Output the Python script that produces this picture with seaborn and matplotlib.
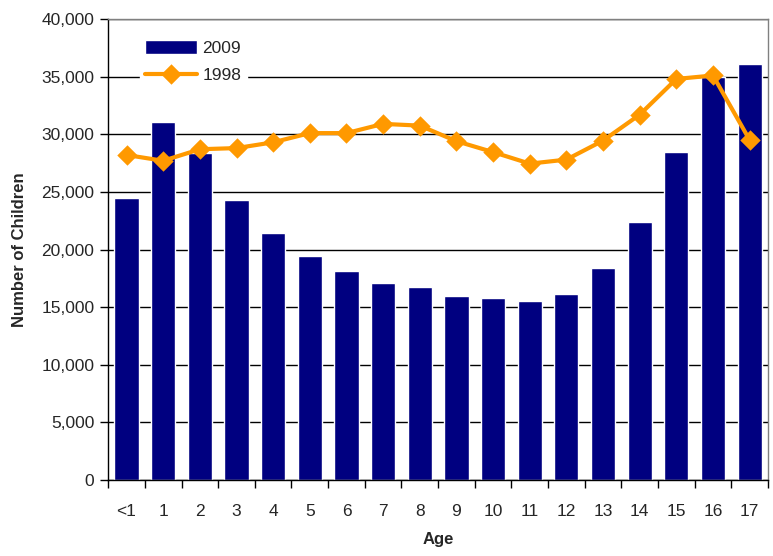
import matplotlib
matplotlib.use("Agg")
import matplotlib.pyplot as plt
import matplotlib.ticker as mticker
import numpy as np
import pandas as pd
import seaborn as sns

ages = ["<1", "1", "2", "3", "4", "5", "6", "7", "8", "9",
        "10", "11", "12", "13", "14", "15", "16", "17"]
children_2009 = [24500, 31100, 28400, 24300, 21400, 19450, 18100, 17100, 16750,
                 15950, 15750, 15550, 16150, 18400, 22400, 28500, 35000, 36100]
children_1998 = [28200, 27700, 28700, 28800, 29300, 30100, 30100, 30900, 30750,
                 29400, 28450, 27450, 27800, 29450, 31700, 34800, 35100, 29500]

df = pd.DataFrame({"Age": ages, "2009": children_2009, "1998": children_1998})

sns.set_style("white")
plt.rcParams["font.family"] = ["Liberation Sans", "DejaVu Sans"]

fig = plt.figure(figsize=(7.73, 5.56), dpi=100)
ax = fig.add_axes([0.140, 0.1367, 0.8535, 0.8291])

sns.barplot(data=df, x="Age", y="2009", color="#000080", saturation=1,
            width=0.66, ax=ax, label="2009", zorder=2)
sns.pointplot(data=df, x="Age", y="1998", color="#FF9900", markers="D",
              markersize=8, linewidth=3, ax=ax, label="1998", zorder=3)

ax.set_ylim(0, 40000)
ax.set_xlim(-0.5, len(ages) - 0.5)
ax.yaxis.set_major_locator(mticker.MultipleLocator(5000))
ax.yaxis.set_major_formatter(mticker.FuncFormatter(lambda v, p: f"{int(v):,}"))
ax.grid(axis="y", color="black", linewidth=1, zorder=0)
ax.set_axisbelow(True)

# x ticks sit between categories
ax.set_xticks(np.arange(-0.5, len(ages), 1), minor=True)
ax.tick_params(axis="x", which="major", length=0, pad=17, labelsize=12.5)
ax.tick_params(axis="x", which="minor", length=6, width=1, color="black",
               direction="out", bottom=True)
ax.tick_params(axis="y", length=6, width=1, color="black", direction="out",
               left=True, labelsize=12.5, pad=4)

for side in ["left", "bottom"]:
    ax.spines[side].set_color("black")
    ax.spines[side].set_linewidth(1)
for side in ["top", "right"]:
    ax.spines[side].set_color("#808080")
    ax.spines[side].set_linewidth(1)

ax.set_xlabel("Age", fontsize=12, fontweight="bold", labelpad=10)
ax.set_ylabel("Number of Children", fontsize=12, fontweight="bold", labelpad=10)

handles, labels = ax.get_legend_handles_labels()
order = [labels.index("2009"), labels.index("1998")]
leg = ax.legend([handles[i] for i in order], [labels[i] for i in order],
                loc="upper left", bbox_to_anchor=(0.035, 0.985), frameon=True,
                fontsize=12.5, handlelength=3.0, handleheight=0.9, borderpad=0.3,
                labelspacing=0.65, handletextpad=0.3)
leg.get_frame().set_facecolor("white")
leg.get_frame().set_edgecolor("white")
leg.get_frame().set_alpha(1)

fig.savefig("out.png", dpi=100)
